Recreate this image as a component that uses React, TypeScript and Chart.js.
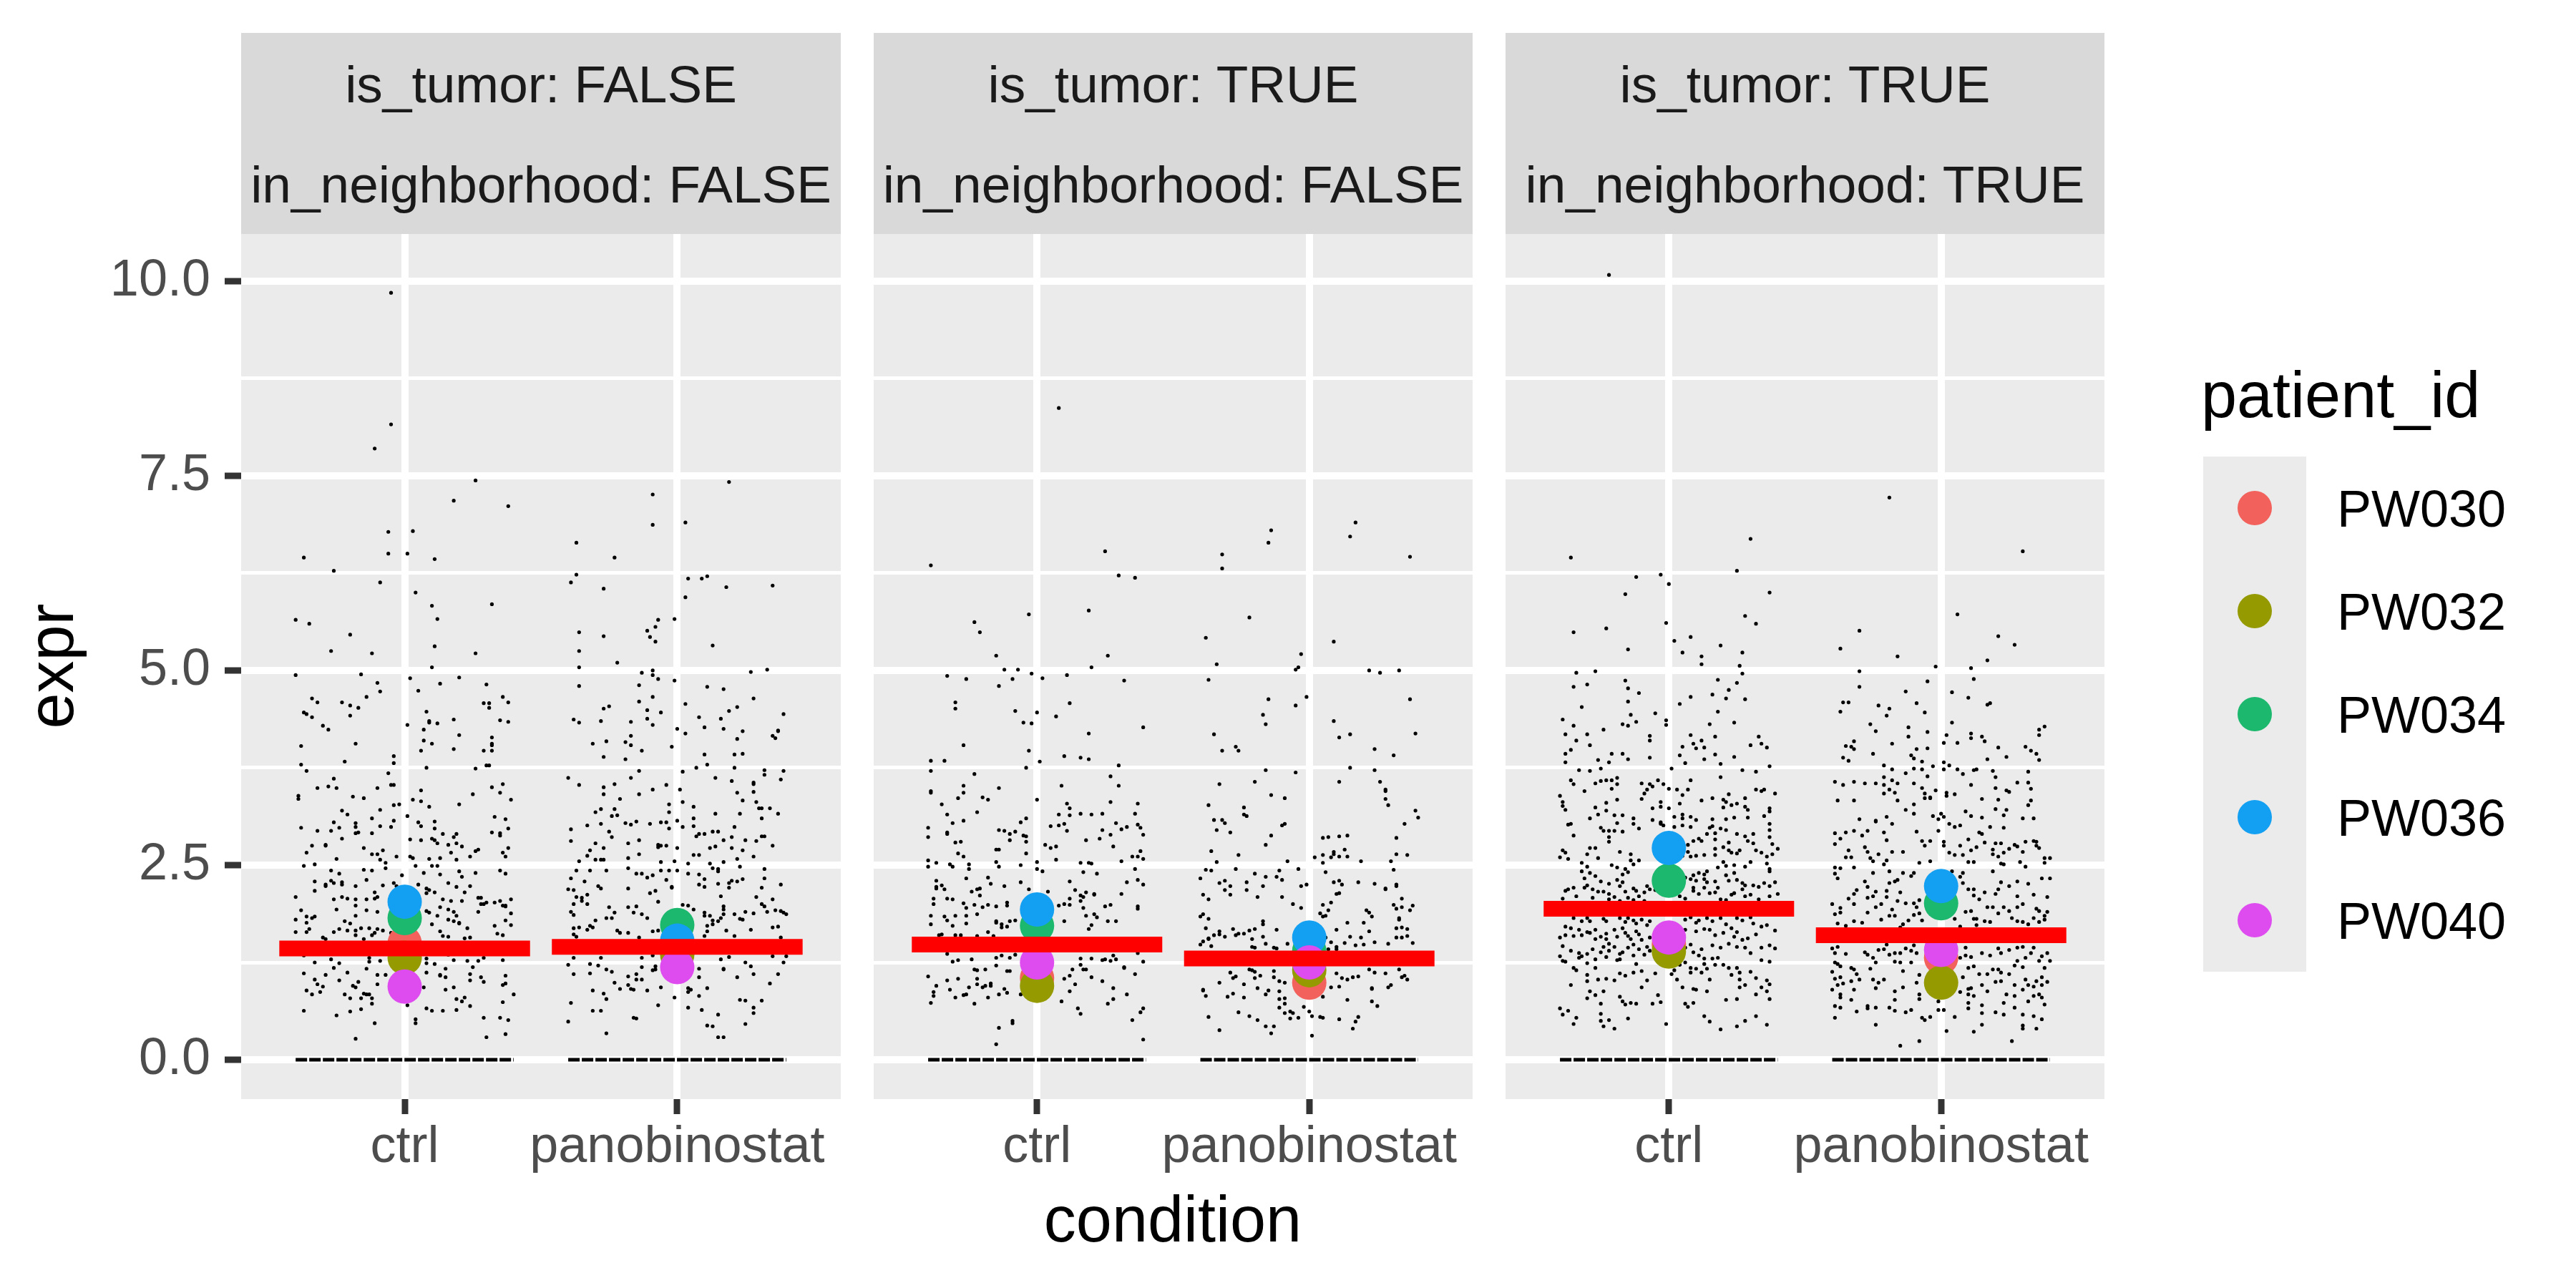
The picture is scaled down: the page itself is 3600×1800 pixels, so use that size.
import React, { useEffect, useRef } from 'react';
import { Chart, registerables } from 'chart.js';

Chart.register(...registerables);

const FONT = '"Liberation Sans", Arial, Helvetica, sans-serif';

// ---------------- data ----------------
const categories = ['ctrl', 'panobinostat'];
const isTumor = ['FALSE', 'TRUE', 'TRUE'];
const inNeighborhood = ['FALSE', 'FALSE', 'TRUE'];
const patients = ['PW030', 'PW032', 'PW034', 'PW036', 'PW040'];
const patientColors = ['#F3615C', '#949A00', '#1BB86E', '#14A0F2', '#DE4BEE'];

// group means (red bars) per facet
const ctrlMeans = [1.43, 1.48, 1.94];
const panoMeans = [1.45, 1.3, 1.6];

// patient means: [f1 ctrl, f1 pano, f2 ctrl, f2 pano, f3 ctrl, f3 pano]
const pw030Means = [1.5, 1.45, 1.05, 0.99, 1.48, 1.31];
const pw032Means = [1.31, 1.35, 0.95, 1.15, 1.39, 0.99];
const pw034Means = [1.82, 1.73, 1.72, 1.4, 2.3, 2.01];
const pw036Means = [2.03, 1.53, 1.93, 1.57, 2.72, 2.23];
const pw040Means = [0.94, 1.19, 1.25, 1.25, 1.57, 1.41];
const patientMeans = [pw030Means, pw032Means, pw034Means, pw036Means, pw040Means];

// y axis ticks
const yMajor = [0, 2.5, 5, 7.5, 10];
const yMajorLabels = ['0.0', '2.5', '5.0', '7.5', '10.0'];
const yMinor = [1.25, 3.75, 6.25, 8.75];

// jitter half width of zero-valued cells
const ZERO_HALF = 0.4;
const BAR_HALF = 0.46;

// jittered cells: flat pairs [jitter offset, expr, ...]
const p1CtrlJitter = [
  -0.05,9.85,-0.05,8.16,-0.11,7.85,0.26,7.44,0.18,7.18,0.38,7.11,-0.06,6.78,0.03,6.79,-0.37,6.45,-0.06,6.5,0.01,6.5,0.11,6.43,-0.26,6.28,-0.09,6.13,0.04,6.0,0.1,5.83,0.32,5.85,-0.4,5.65,0.12,5.66,
  -0.35,5.6,-0.2,5.46,-0.27,5.25,-0.12,5.22,0.11,5.31,0.26,5.22,0.1,5.04,-0.4,4.94,-0.16,4.95,0.02,4.9,0.2,4.91,0.13,4.83,-0.1,4.84,-0.09,4.73,0.05,4.74,0.3,4.82,-0.14,4.66,-0.34,4.64,-0.32,4.59,-0.23,4.59,-0.2,4.55,-0.17,4.52,-0.2,4.42,-0.37,4.46,-0.36,4.44,-0.34,4.4,0.29,4.58,0.31,4.58,0.31,4.52,0.36,4.66,0.38,4.59,0.08,4.47,0.09,4.35,0.09,4.33,0.12,4.32,0.01,4.3,0.18,4.37,0.35,4.36,0.38,4.34,-0.3,4.29,-0.28,4.24,0.07,4.24,0.2,4.17,0.32,4.14,0.07,4.1,0.1,4.06,0.32,4.06,0.32,4.04,-0.38,4.03,-0.18,4.06,0.06,3.97,0.18,3.99,0.29,3.97,0.32,3.97,-0.04,3.9,-0.04,3.81,-0.22,3.83,-0.38,3.79,-0.36,3.71,0.08,3.75,0.26,3.74,0.3,3.78,0.31,3.78,-0.06,3.68,-0.26,3.61,-0.05,3.53,-0.04,3.53,-0.28,3.51,-0.25,3.49,-0.32,3.49,-0.1,3.49,0.06,3.46,0.32,3.5,0.36,3.54,0.25,3.41,0.35,3.43,-0.39,3.39,-0.39,3.35,-0.19,3.38,-0.15,3.36,0.03,3.34,0.06,3.32,0.09,3.25,0.2,3.28,0.39,3.34,-0.04,3.27,-0.02,3.28,-0.09,3.21,-0.23,3.2,-0.21,3.15,-0.12,3.1,-0.18,3.04,-0.18,2.99,-0.26,3.05,-0.24,2.98,-0.27,2.94,-0.32,2.94,-0.38,2.98,-0.09,3.0,-0.05,2.99,-0.04,3.07,0.01,3.13,0.05,3.05,0.06,3.0,0.11,3.06,0.11,2.97,0.33,3.12,0.37,3.09,0.38,2.97,0.32,2.92,0.35,2.91,0.35,2.88,-0.18,2.91,-0.17,2.92,-0.12,2.91,-0.23,2.84,0.14,2.9,0.19,2.9,0.18,2.86,0.02,2.83,0.06,2.82,0.1,2.84,0.11,2.82,0.12,2.78,0.19,2.78,0.21,2.74,0.16,2.76,-0.29,2.76,-0.29,2.75,-0.34,2.75,-0.15,2.72,-0.08,2.69,0.26,2.68,0.27,2.7,0.38,2.72,-0.36,2.66,-0.12,2.64,-0.1,2.64,0.17,2.66,0.19,2.57,0.36,2.66,0.37,2.61,-0.03,2.61,-0.09,2.57,-0.07,2.53,-0.07,2.46,-0.25,2.58,0.02,2.61,0.03,2.59,0.09,2.58,0.13,2.59,0.24,2.61,-0.37,2.49,-0.33,2.51,0.04,2.49,0.1,2.49,0.12,2.49,-0.27,2.43,-0.15,2.44,-0.12,2.43,0.07,2.4,0.13,2.38,0.2,2.42,0.26,2.4,0.35,2.43,0.37,2.39,-0.24,2.39,0.21,2.35,-0.33,2.29,-0.29,2.23,-0.29,2.25,-0.27,2.3,-0.26,2.27,-0.23,2.28,-0.23,2.25,-0.33,2.17,-0.18,2.23,-0.14,2.31,-0.08,2.24,-0.04,2.27,-0.03,2.23,-0.01,2.37,0.05,2.25,0.08,2.2,0.09,2.18,0.16,2.27,0.19,2.22,0.24,2.23,0.22,2.15,0.11,2.15,0.27,2.08,-0.4,2.09,-0.11,2.15,-0.11,2.07,-0.23,2.09,-0.26,2.06,-0.21,2.07,-0.18,2.06,-0.14,2.06,-0.1,2.09,0.02,2.15,0.08,2.14,0.14,2.06,0.17,2.04,0.21,2.04,0.28,2.08,0.3,2.02,0.33,2.02,0.35,2.04,0.37,1.98,0.39,2.06,0.28,2.0,0.29,2.0,-0.38,1.92,-0.25,1.93,-0.18,1.98,-0.14,1.92,-0.1,1.9,0.08,1.91,0.09,1.89,0.12,1.85,0.13,1.96,0.16,1.93,0.18,1.9,0.19,1.85,0.2,1.75,0.27,1.9,0.36,1.98,0.37,1.97,0.39,1.88,-0.4,1.8,-0.36,1.84,-0.34,1.82,-0.33,1.84,-0.36,1.76,-0.35,1.68,-0.4,1.64,-0.36,1.64,-0.18,1.85,-0.22,1.78,-0.2,1.75,-0.26,1.64,-0.24,1.68,-0.21,1.66,-0.18,1.66,-0.16,1.69,-0.13,1.69,-0.11,1.63,-0.12,1.6,-0.1,1.68,-0.08,1.66,-0.05,1.63,-0.18,1.6,-0.15,1.55,-0.3,1.57,-0.29,1.55,0.1,1.74,0.16,1.8,0.18,1.78,0.2,1.76,0.13,1.65,0.23,1.69,0.14,1.59,0.16,1.58,0.22,1.56,0.24,1.57,0.33,1.72,0.37,1.79,0.39,1.73,0.34,1.62,0.36,1.6,
  -0.37,1.34,-0.33,1.25,-0.27,1.29,-0.26,1.18,-0.24,1.24,-0.13,1.31,-0.13,1.26,-0.09,1.27,-0.14,1.17,0.08,1.3,0.08,1.24,0.11,1.23,0.16,1.35,0.18,1.28,0.23,1.27,0.25,1.19,0.27,1.27,0.29,1.31,0.36,1.28,-0.37,1.11,-0.33,1.03,-0.32,0.97,-0.3,0.94,-0.36,0.89,-0.34,0.84,-0.31,0.87,-0.29,1.09,-0.24,1.02,-0.21,1.12,-0.19,0.95,-0.18,0.93,-0.17,1.0,-0.22,0.84,-0.2,0.79,-0.15,0.85,-0.14,0.84,-0.13,0.84,-0.16,0.79,-0.12,0.79,-0.12,0.72,-0.1,0.97,-0.1,1.09,-0.07,1.09,-0.25,0.57,-0.2,0.62,-0.16,0.65,-0.18,0.27,-0.11,0.47,-0.37,0.63,0.01,0.7,0.04,0.52,0.04,0.47,0.07,0.93,0.08,1.12,0.08,0.66,0.1,0.63,0.14,0.63,0.13,1.09,0.13,1.08,0.15,1.06,0.15,0.9,0.18,0.93,0.19,0.78,0.19,0.64,0.15,1.17,0.21,0.75,0.22,0.8,0.24,1.02,0.24,1.1,0.24,0.69,0.28,1.06,0.29,1.0,0.3,0.29,0.29,0.54,0.35,0.54,0.36,0.74,0.36,0.96,0.37,0.98,0.37,0.33,0.38,0.51,0.4,0.84,0.37,1.08,
];

const p1PanoJitter = [
  -0.09,7.26,0.19,7.42,-0.09,6.87,0.03,6.9,-0.37,6.64,-0.23,6.45,-0.37,6.23,-0.39,6.13,-0.27,6.05,0.04,6.18,0.09,6.18,0.11,6.21,0.18,6.07,0.35,6.09,0.03,5.94,-0.07,5.65,-0.01,5.66,
  -0.36,5.49,-0.27,5.44,-0.08,5.56,-0.11,5.51,-0.1,5.43,-0.08,5.37,0.13,5.32,-0.36,5.25,-0.36,5.04,-0.22,5.1,0.27,4.98,0.33,5.01,-0.13,4.97,-0.09,5.0,-0.09,4.94,-0.07,4.89,-0.01,4.87,-0.36,4.8,-0.14,4.81,0.11,4.79,0.17,4.76,-0.09,4.66,-0.14,4.6,0.03,4.57,0.28,4.64,0.22,4.53,-0.27,4.51,-0.25,4.54,-0.11,4.49,-0.06,4.46,0.19,4.48,0.39,4.44,-0.38,4.37,-0.36,4.33,-0.28,4.35,-0.17,4.34,-0.11,4.38,-0.09,4.3,0.08,4.4,0.1,4.27,0.16,4.38,0.0,4.25,0.03,4.19,0.17,4.25,0.24,4.22,0.37,4.22,0.37,4.23,0.35,4.16,0.36,4.13,-0.17,4.16,-0.19,4.08,-0.17,4.04,-0.26,4.09,-0.31,4.06,0.22,4.12,-0.02,4.02,-0.13,3.97,-0.27,3.89,-0.19,3.86,0.1,3.92,0.11,3.79,0.21,3.92,0.24,3.93,0.07,3.75,0.21,3.75,-0.14,3.71,0.02,3.7,0.32,3.72,0.32,3.66,0.39,3.71,-0.4,3.62,-0.36,3.53,-0.17,3.62,-0.23,3.54,-0.27,3.5,-0.04,3.53,0.01,3.47,-0.09,3.47,0.14,3.62,0.2,3.58,0.28,3.56,0.28,3.54,0.38,3.6,-0.27,3.41,-0.21,3.35,-0.14,3.41,0.02,3.31,-0.03,3.28,0.06,3.25,0.22,3.43,0.24,3.33,0.28,3.44,0.29,3.31,0.3,3.23,0.31,3.23,0.34,3.23,0.37,3.16,-0.28,3.22,-0.23,3.22,-0.3,3.18,-0.24,3.13,-0.22,3.14,-0.03,3.18,0.14,3.16,0.23,3.16,0.31,3.1,-0.33,3.01,-0.28,3.03,-0.19,3.04,-0.17,3.02,-0.15,3.06,-0.1,3.03,-0.06,3.05,-0.04,3.05,0.0,3.07,0.06,3.1,-0.03,2.97,0.02,2.99,0.06,3.0,0.1,2.9,0.13,2.93,0.15,2.93,0.21,2.99,-0.39,2.96,-0.25,2.93,-0.24,2.86,0.07,2.87,0.08,2.9,0.17,2.82,0.2,2.86,0.25,2.82,0.29,2.81,0.31,2.87,0.32,2.87,0.35,2.75,-0.39,2.81,-0.3,2.78,-0.18,2.78,-0.14,2.82,-0.07,2.76,-0.07,2.73,-0.06,2.75,-0.04,2.75,0.0,2.72,0.12,2.72,0.14,2.74,0.2,2.72,0.24,2.69,-0.27,2.72,-0.32,2.69,-0.33,2.62,-0.3,2.57,-0.28,2.57,-0.27,2.57,-0.36,2.55,-0.14,2.64,-0.18,2.59,-0.06,2.54,-0.01,2.55,0.04,2.52,0.06,2.63,0.08,2.63,0.12,2.52,0.13,2.46,0.15,2.45,0.17,2.54,0.22,2.58,0.28,2.61,0.23,2.48,0.32,2.45,-0.37,2.43,-0.32,2.43,-0.26,2.43,-0.39,2.33,-0.34,2.29,-0.18,2.46,-0.15,2.39,-0.13,2.39,-0.11,2.34,-0.09,2.37,-0.06,2.43,-0.03,2.43,0.0,2.43,-0.04,2.31,0.04,2.39,0.08,2.38,0.1,2.32,0.08,2.25,0.1,2.22,0.15,2.42,0.15,2.26,0.19,2.27,0.19,2.21,0.2,2.3,0.22,2.29,0.24,2.32,0.32,2.33,0.38,2.25,0.31,2.21,0.16,2.1,-0.29,2.23,-0.28,2.2,-0.4,2.19,-0.38,2.18,-0.37,2.09,-0.35,2.08,-0.33,2.12,-0.35,2.04,-0.38,2.0,-0.33,2.0,-0.18,2.2,-0.1,2.14,-0.08,2.17,-0.02,2.22,-0.02,2.21,-0.07,2.03,0.02,1.99,0.04,1.98,0.29,2.09,0.31,2.0,0.35,2.06,0.32,1.97,-0.25,1.96,-0.18,1.96,-0.15,1.97,0.06,1.93,0.17,1.97,0.17,1.93,0.1,1.89,0.1,1.85,0.12,1.85,0.13,1.79,0.15,1.78,0.13,1.74,0.16,1.82,0.17,1.87,0.21,1.87,0.25,1.9,0.28,1.88,0.33,1.9,0.36,1.92,0.38,1.91,0.4,1.87,0.39,1.89,0.37,1.71,0.27,1.67,0.35,1.7,0.23,1.81,0.24,1.8,0.18,1.66,0.11,1.72,0.11,1.65,0.1,1.59,0.38,1.57,0.21,1.59,-0.39,1.9,-0.38,1.86,-0.3,1.79,-0.26,1.82,-0.23,1.89,-0.24,1.82,-0.13,1.87,-0.11,1.82,-0.16,1.89,-0.38,1.69,-0.36,1.7,-0.38,1.61,-0.37,1.58,-0.33,1.67,-0.32,1.72,-0.31,1.7,-0.22,1.66,-0.21,1.63,-0.18,1.63,-0.14,1.57,-0.09,1.65,-0.07,1.66,
  -0.4,1.22,-0.38,1.1,-0.38,1.31,-0.32,1.11,-0.32,1.23,-0.29,1.21,-0.28,1.31,-0.26,1.16,-0.24,1.13,-0.23,0.99,-0.21,0.91,-0.13,1.31,-0.13,1.19,-0.09,1.34,-0.09,1.15,-0.08,1.16,-0.08,1.2,-0.18,1.07,-0.18,0.96,-0.17,0.91,-0.15,1.1,-0.15,1.03,-0.13,1.03,-0.16,0.9,-0.11,0.89,-0.06,0.93,0.08,1.17,0.08,1.06,0.04,0.92,0.05,0.9,0.04,0.87,0.08,0.82,0.11,0.92,0.16,1.29,0.17,1.16,0.17,1.17,0.19,1.32,0.22,1.06,0.25,1.25,0.27,1.2,0.28,1.1,0.35,1.33,0.37,1.1,0.39,1.25,0.4,1.33,0.34,0.98,0.31,0.76,0.23,0.77,0.25,0.76,0.28,0.67,0.28,0.6,0.25,0.46,0.09,0.64,0.11,0.44,0.13,0.43,0.15,0.58,0.15,0.29,0.17,0.29,0.04,0.67,-0.01,0.8,-0.07,0.7,-0.16,0.54,-0.15,0.53,-0.26,0.34,-0.31,0.63,-0.28,0.63,-0.27,0.85,-0.26,0.78,-0.31,0.89,-0.39,0.73,-0.4,0.49,-0.05,1.17,
];

const p2CtrlJitter = [
  0.08,8.37,-0.39,6.35,0.25,6.53,0.3,6.22,0.36,6.19,0.19,5.77,-0.03,5.72,
  -0.23,5.62,-0.21,5.49,-0.15,5.19,0.26,5.19,-0.12,5.01,-0.07,5.01,0.2,5.04,-0.02,4.96,-0.33,4.93,-0.26,4.89,-0.09,4.89,0.02,4.9,0.11,4.94,0.32,4.87,-0.14,4.8,-0.3,4.59,-0.3,4.51,0.12,4.58,-0.08,4.48,0.0,4.46,0.07,4.41,-0.05,4.33,-0.02,4.32,0.39,4.27,0.19,4.19,-0.27,4.04,-0.03,3.97,0.1,3.9,0.16,3.88,0.19,3.86,-0.39,3.84,-0.34,3.84,0.01,3.83,-0.04,3.75,0.3,3.78,-0.39,3.71,-0.23,3.67,0.27,3.64,0.09,3.52,-0.14,3.49,-0.27,3.52,0.3,3.52,-0.39,3.45,-0.39,3.43,-0.27,3.43,-0.29,3.36,-0.2,3.37,-0.18,3.34,0.0,3.34,0.27,3.31,0.11,3.29,0.37,3.29,-0.35,3.28,0.12,3.23,-0.22,3.18,-0.33,3.15,0.08,3.15,0.12,3.14,0.16,3.16,0.2,3.15,0.24,3.16,0.36,3.16,-0.04,3.1,-0.06,3.05,-0.31,3.04,-0.27,3.07,0.05,3.0,0.08,3.01,0.1,3.03,0.29,3.04,0.33,2.99,0.37,3.02,0.38,2.98,-0.4,2.98,-0.14,2.95,-0.12,2.94,-0.1,2.9,-0.08,2.93,-0.05,2.88,-0.04,2.87,-0.1,2.82,-0.33,2.92,-0.33,2.9,-0.4,2.86,0.11,2.94,0.24,2.95,0.31,2.96,0.27,2.89,0.39,2.89,0.18,2.82,0.23,2.84,-0.3,2.79,-0.28,2.8,-0.04,2.8,0.03,2.76,0.05,2.72,0.07,2.74,0.28,2.74,-0.15,2.7,-0.14,2.7,-0.04,2.65,-0.29,2.65,-0.27,2.61,0.35,2.61,0.37,2.61,0.39,2.58,0.38,2.68,-0.4,2.56,-0.37,2.53,-0.32,2.51,-0.31,2.48,-0.4,2.48,-0.25,2.51,-0.25,2.45,-0.15,2.54,-0.14,2.48,-0.06,2.5,0.0,2.54,0.0,2.45,0.02,2.42,0.07,2.57,0.16,2.53,0.19,2.53,0.2,2.52,0.17,2.41,0.22,2.39,0.31,2.55,0.36,2.45,0.37,2.31,0.39,2.25,0.33,2.28,0.31,2.13,-0.26,2.33,-0.18,2.34,-0.17,2.26,-0.37,2.3,-0.37,2.22,-0.37,2.2,-0.35,2.24,-0.34,2.19,-0.22,2.19,-0.21,2.2,-0.24,2.16,-0.21,2.11,-0.12,2.23,-0.06,2.28,-0.03,2.19,0.04,2.16,0.12,2.29,0.14,2.18,0.16,2.11,0.17,2.09,0.18,2.15,0.21,2.13,0.21,2.12,-0.38,2.07,-0.38,2.0,-0.33,2.07,-0.31,2.06,-0.27,2.01,-0.26,1.95,-0.23,1.99,-0.2,1.96,-0.18,1.99,-0.15,1.97,-0.11,1.98,-0.11,2.02,-0.05,1.97,0.03,2.06,0.04,2.03,0.08,1.98,0.1,2.0,0.12,1.99,0.12,2.07,0.16,2.04,0.17,1.95,0.18,1.85,0.21,1.87,0.22,1.83,0.25,1.97,0.27,1.99,0.37,1.97,0.37,1.94,0.26,1.78,0.29,1.78,0.2,1.73,0.19,1.68,0.1,1.78,-0.39,1.85,-0.34,1.84,-0.33,1.79,-0.39,1.74,-0.3,1.85,-0.26,1.75,-0.26,1.85,-0.22,1.87,-0.31,1.72,-0.15,1.78,-0.15,1.76,-0.13,1.74,-0.13,1.7,-0.11,1.71,-0.1,1.78,-0.08,1.79,-0.18,1.64,-0.16,1.59,-0.36,1.6,-0.35,1.61,-0.3,1.6,-0.28,1.6,-0.22,1.59,
  -0.33,1.36,-0.31,1.26,-0.29,1.28,-0.24,1.29,-0.15,1.31,-0.13,1.34,-0.1,1.31,-0.08,1.35,-0.15,1.21,-0.11,1.14,-0.1,1.14,-0.23,1.16,-0.22,1.15,-0.19,1.16,-0.33,1.02,-0.29,1.04,-0.22,1.04,-0.4,1.07,-0.37,0.95,-0.38,0.87,-0.38,0.82,-0.39,0.73,-0.32,0.9,-0.3,0.8,-0.27,0.83,-0.26,0.84,-0.25,0.93,-0.23,0.72,-0.22,0.97,-0.2,0.93,-0.19,0.95,-0.18,0.8,-0.17,0.95,-0.17,0.98,-0.14,0.84,-0.12,0.91,-0.11,0.86,-0.06,0.84,-0.14,0.41,-0.15,0.2,-0.09,0.47,-0.09,0.5,0.09,0.75,0.1,1.04,0.12,0.88,0.12,1.08,0.13,1.16,0.16,1.22,0.17,1.16,0.18,1.16,0.16,1.3,0.2,1.3,0.2,1.06,0.14,0.97,0.15,0.66,0.16,0.59,0.24,1.01,0.24,1.28,0.25,1.29,0.27,1.27,0.28,1.34,0.29,1.29,0.32,1.19,0.32,1.18,0.36,1.1,0.39,1.26,0.37,1.37,0.28,0.92,0.28,0.78,0.26,0.72,0.33,0.84,0.35,0.51,0.38,0.61,0.39,0.66,0.39,0.26,
];

const p2PanoJitter = [
  -0.32,6.49,-0.32,6.31,-0.15,6.64,-0.14,6.8,0.15,6.72,0.17,6.9,0.37,6.46,
  -0.22,5.68,-0.38,5.42,0.09,5.37,-0.03,5.21,-0.34,5.08,-0.04,5.04,-0.05,5.01,0.22,5.0,0.26,4.97,0.33,5.0,-0.37,4.88,-0.01,4.66,-0.05,4.55,-0.15,4.63,0.37,4.63,-0.17,4.43,-0.16,4.31,0.09,4.35,-0.35,4.18,0.11,4.14,0.15,4.18,0.39,4.19,-0.32,3.97,-0.27,4.02,-0.26,3.97,0.24,3.99,0.31,3.91,-0.16,3.72,-0.05,3.69,0.15,3.75,0.24,3.72,0.11,3.57,0.26,3.57,-0.2,3.57,-0.33,3.54,0.28,3.47,0.28,3.45,-0.14,3.4,-0.09,3.36,0.28,3.35,0.29,3.27,-0.37,3.27,-0.24,3.24,-0.24,3.15,-0.23,3.13,-0.35,3.08,-0.32,3.08,-0.31,3.04,-0.1,3.01,-0.09,3.03,0.39,3.2,0.4,3.11,0.35,3.03,-0.34,2.95,-0.29,2.92,-0.14,2.88,0.05,2.85,0.07,2.86,0.11,2.87,0.14,2.88,0.32,2.85,-0.16,2.76,-0.36,2.68,-0.26,2.63,0.09,2.67,0.13,2.7,0.11,2.61,0.09,2.64,0.05,2.63,0.02,2.6,0.08,2.6,0.14,2.61,0.05,2.53,-0.08,2.55,0.19,2.55,0.3,2.55,0.32,2.64,0.36,2.63,-0.34,2.54,-0.38,2.44,-0.36,2.43,-0.27,2.45,-0.04,2.45,0.06,2.41,0.31,2.44,-0.4,2.33,-0.31,2.3,-0.33,2.27,-0.31,2.18,-0.29,2.23,-0.29,2.12,-0.39,2.12,-0.37,2.06,-0.23,2.28,-0.23,2.18,-0.19,2.09,-0.2,2.39,-0.16,2.35,-0.17,2.23,-0.12,2.35,-0.11,2.43,-0.1,2.31,-0.1,2.09,-0.03,2.23,-0.01,2.25,0.09,2.28,0.11,2.3,0.12,2.25,0.18,2.28,0.24,2.26,0.28,2.2,0.28,2.19,0.32,2.25,0.32,2.23,0.1,2.13,0.11,2.14,0.34,2.07,0.37,1.92,0.38,1.98,0.31,1.99,0.32,1.94,0.34,1.96,0.33,1.82,0.33,1.8,0.34,1.7,0.32,1.69,0.36,1.68,0.34,1.57,0.38,1.5,0.32,1.57,0.36,1.59,0.21,1.92,0.22,1.89,0.23,1.84,0.2,1.76,0.22,1.65,0.19,1.57,0.15,1.58,0.17,1.47,0.14,1.76,0.1,1.67,0.05,1.84,0.04,1.88,0.05,1.99,0.07,1.92,0.06,1.85,0.08,2.02,-0.03,1.95,-0.06,2.0,-0.08,1.49,-0.12,1.67,-0.13,1.44,-0.12,1.43,-0.17,1.74,-0.17,1.78,-0.16,1.49,-0.17,1.58,-0.2,1.68,-0.22,1.66,-0.21,1.55,-0.21,1.45,-0.2,1.44,-0.24,1.62,-0.26,1.62,-0.28,1.68,-0.27,1.6,-0.31,1.58,-0.33,1.65,-0.33,1.61,-0.35,1.6,-0.37,1.56,-0.38,1.69,-0.4,1.84,-0.39,1.87,-0.37,1.81,-0.39,1.52,-0.4,1.48,-0.36,1.46,-0.37,1.55,
  -0.29,1.12,-0.27,1.07,-0.28,1.05,-0.24,0.97,-0.22,1.16,-0.21,1.15,-0.2,1.13,-0.2,1.05,-0.18,1.08,-0.13,1.14,-0.13,1.06,-0.11,1.01,-0.09,0.99,-0.15,0.89,-0.11,0.88,-0.16,0.84,-0.19,0.92,-0.11,0.78,-0.09,0.79,-0.09,0.72,-0.11,0.67,-0.07,0.62,-0.09,0.6,-0.07,0.53,-0.06,0.6,-0.04,0.54,-0.02,0.68,0.0,0.62,0.01,0.56,0.04,0.55,0.05,0.54,0.01,0.31,-0.19,0.51,-0.16,0.43,-0.13,0.43,-0.14,0.34,-0.22,0.56,-0.26,0.61,-0.37,0.55,-0.33,0.38,-0.39,0.89,-0.39,0.9,-0.38,0.82,-0.3,0.81,-0.28,0.85,-0.24,0.8,-0.33,0.99,0.05,0.81,0.08,0.93,0.11,0.52,0.1,1.11,0.14,1.03,0.11,0.94,0.12,1.05,0.16,1.06,0.14,0.77,0.17,0.49,0.16,0.4,0.18,0.55,0.18,1.07,0.23,0.91,0.23,0.92,0.23,0.75,0.25,0.69,0.22,1.16,0.24,1.12,0.28,1.11,0.29,0.93,0.3,0.96,0.33,1.16,0.35,1.08,0.36,1.03,0.34,1.06,0.2,1.48,0.24,1.51,0.29,1.49,0.25,1.23,0.13,1.5,0.1,1.45,0.08,1.51,0.06,1.57,0.1,1.42,0.04,1.43,0.07,1.42,
];

const p3CtrlJitter = [
  -0.22,10.08,-0.36,6.45,-0.03,6.23,-0.12,6.2,0.0,6.11,-0.16,5.98,0.25,6.28,0.37,6.0,0.28,5.7,0.3,6.69,
  -0.35,5.49,-0.23,5.54,-0.01,5.61,0.32,5.6,0.02,5.38,0.08,5.43,0.05,5.23,0.12,5.18,0.12,5.08,-0.15,5.27,0.19,5.32,0.27,5.23,0.26,5.06,0.27,4.96,-0.34,4.97,-0.27,4.99,-0.35,4.79,-0.3,4.82,-0.16,4.87,-0.15,4.77,-0.11,4.71,-0.15,4.6,-0.32,4.53,-0.05,4.45,-0.14,4.43,-0.17,4.31,-0.15,4.29,-0.12,4.34,-0.01,4.36,-0.01,4.3,-0.39,4.37,-0.35,4.29,0.18,4.88,0.25,4.84,0.22,4.75,0.21,4.64,0.16,4.69,0.08,4.66,0.28,4.63,0.04,4.57,0.18,4.47,0.15,4.31,0.24,4.33,-0.38,4.18,-0.3,4.18,-0.24,4.24,-0.07,4.16,-0.07,4.1,-0.34,4.1,-0.29,4.04,-0.36,3.98,-0.38,3.93,-0.26,3.85,-0.22,3.82,-0.21,3.93,-0.17,3.93,-0.15,3.86,-0.07,3.88,-0.38,3.82,-0.25,3.74,-0.33,3.72,-0.29,3.71,0.08,4.17,0.12,4.1,0.09,4.06,0.05,4.02,0.1,4.0,0.13,4.01,0.17,4.15,0.3,4.04,0.33,4.15,0.34,4.06,0.36,4.01,0.04,3.91,0.06,3.81,0.13,3.86,0.17,3.92,0.24,3.89,0.19,3.8,0.01,3.74,0.37,3.77,0.27,3.72,0.32,3.7,
  -0.36,3.59,-0.35,3.54,-0.31,3.45,-0.4,3.39,-0.39,3.31,-0.39,3.26,-0.38,3.21,-0.37,3.02,-0.36,3.03,-0.35,2.88,-0.39,2.69,-0.38,2.66,-0.4,2.6,-0.37,2.58,-0.32,2.53,-0.3,2.48,-0.32,2.42,-0.29,2.4,-0.31,2.33,-0.27,2.36,-0.27,3.55,-0.27,3.24,-0.29,3.1,-0.26,3.15,-0.25,3.58,-0.23,3.59,-0.21,3.59,-0.19,3.62,-0.19,3.54,-0.21,3.48,-0.23,3.3,-0.19,3.34,-0.23,3.2,-0.2,3.14,-0.17,3.14,-0.19,3.04,-0.25,2.98,-0.24,2.94,-0.22,2.94,-0.22,2.86,-0.22,2.8,-0.2,2.94,-0.17,2.93,-0.29,2.72,-0.27,2.72,-0.3,2.64,-0.26,2.59,-0.18,2.67,-0.14,2.64,-0.21,2.5,-0.19,2.47,-0.16,2.45,-0.15,2.41,-0.17,2.38,-0.19,2.31,-0.17,2.28,-0.22,2.26,-0.25,2.29,-0.24,2.16,-0.22,2.13,-0.14,2.56,-0.11,2.56,-0.13,2.51,-0.13,3.1,-0.13,3.03,-0.11,2.97,-0.1,3.55,-0.07,3.54,-0.06,3.51,-0.04,3.59,-0.02,3.54,-0.08,3.47,-0.1,3.35,-0.09,3.42,-0.03,3.31,-0.03,3.25,-0.06,3.23,0.0,3.48,0.03,3.47,0.08,3.59,0.07,3.47,0.05,3.4,0.04,3.29,0.05,3.15,0.05,3.1,0.02,3.12,0.0,3.23,-0.03,3.05,-0.06,3.08,-0.03,3.03,-0.02,3.01,0.02,2.99,0.05,3.01,0.08,2.99,0.08,3.12,0.1,3.08,0.12,3.33,0.16,3.36,0.2,3.34,0.21,3.31,0.2,3.24,0.19,3.63,0.22,3.41,0.23,3.27,0.25,3.29,0.28,3.36,0.28,3.25,0.32,3.47,0.34,3.45,0.35,3.47,0.39,3.42,0.29,3.21,0.37,3.23,0.37,3.19,0.37,3.03,0.35,3.13,0.29,3.11,0.24,3.11,0.21,3.09,0.16,3.09,0.15,2.98,0.14,2.9,0.16,3.0,0.19,2.97,0.21,2.95,0.17,2.91,0.17,2.83,0.11,2.84,0.12,2.81,0.09,2.81,0.07,2.76,0.05,2.77,0.05,2.62,0.07,2.67,0.08,2.61,0.1,2.62,0.13,2.63,0.17,2.63,0.17,2.71,0.2,2.73,0.22,2.79,0.22,2.69,0.23,2.66,0.25,2.65,0.26,2.69,0.25,2.9,0.28,2.87,0.29,2.81,0.31,2.78,0.32,2.69,0.31,2.9,0.37,2.95,0.37,2.86,0.38,2.77,0.4,2.71,0.34,2.66,0.36,2.61,0.38,2.64,0.36,2.52,0.37,2.45,0.37,2.42,0.3,2.54,0.28,2.48,0.24,2.5,0.21,2.49,0.2,2.54,0.18,2.47,0.14,2.42,0.13,2.38,0.11,2.4,0.09,2.37,0.08,2.32,0.06,2.34,0.1,2.3,0.13,2.32,0.14,2.28,0.17,2.29,0.09,2.21,0.09,2.17,0.11,2.13,0.13,2.21,0.15,2.14,0.17,2.15,0.18,2.21,0.21,2.37,0.22,2.3,0.24,2.4,0.25,2.31,0.27,2.27,0.27,2.19,0.28,2.24,0.31,2.24,0.33,2.22,0.35,2.27,0.37,2.23,0.39,2.28,0.37,2.1,0.4,2.13,0.23,2.12,0.24,2.14,0.28,2.1,0.3,2.12,0.33,2.06,0.21,2.05,0.19,2.06,0.06,2.07,0.04,2.1,-0.38,2.17,-0.39,2.07,-0.37,2.19,-0.35,2.21,-0.34,2.1,-0.31,2.21,-0.3,2.24,-0.28,2.19,-0.26,2.16,-0.18,2.23,-0.16,2.16,-0.13,2.2,-0.12,2.17,-0.11,2.1,-0.09,2.15,-0.08,2.23,-0.07,2.19,-0.05,2.18,-0.03,2.25,-0.02,2.12,-0.28,2.08,-0.22,2.06,-0.2,2.09,-0.18,2.04,-0.15,2.08,-0.13,2.05,-0.09,2.04,
  -0.35,1.82,-0.32,1.78,-0.3,1.82,-0.29,1.78,-0.24,1.81,-0.23,1.78,-0.18,1.82,-0.16,1.77,-0.15,1.82,-0.13,1.79,-0.12,1.75,-0.1,1.8,-0.08,1.73,-0.07,1.78,-0.38,1.71,-0.36,1.69,-0.38,1.6,-0.4,1.57,-0.35,1.59,-0.33,1.67,-0.3,1.64,-0.32,1.6,-0.29,1.63,-0.27,1.67,-0.27,1.55,-0.25,1.58,-0.23,1.62,-0.23,1.55,-0.2,1.67,-0.17,1.69,-0.16,1.63,-0.19,1.58,-0.15,1.59,-0.14,1.55,-0.12,1.65,-0.11,1.61,-0.1,1.54,-0.07,1.57,-0.39,1.46,-0.4,1.33,-0.39,1.27,-0.38,1.26,-0.36,1.4,-0.33,1.37,-0.33,1.31,-0.32,1.33,-0.3,1.36,-0.3,1.24,-0.28,1.42,-0.27,1.29,-0.25,1.38,-0.24,1.45,-0.22,1.49,-0.22,1.4,-0.23,1.32,-0.2,1.45,-0.18,1.36,-0.17,1.38,-0.18,1.29,-0.15,1.44,-0.13,1.48,-0.13,1.34,-0.11,1.42,-0.08,1.45,-0.07,1.4,-0.09,1.35,-0.12,1.23,-0.19,1.28,-0.35,1.18,-0.34,1.15,-0.3,1.09,-0.27,1.18,-0.36,0.96,-0.3,1.01,-0.26,1.03,-0.23,1.04,-0.2,1.02,-0.18,1.11,-0.16,1.08,-0.13,1.12,-0.1,1.14,-0.08,1.02,-0.05,1.11,-0.3,0.79,-0.27,0.83,-0.25,0.72,-0.24,0.88,-0.29,0.88,-0.18,0.81,-0.17,0.75,-0.16,0.71,-0.14,0.73,-0.12,0.72,-0.06,0.72,-0.04,0.83,-0.03,0.74,-0.1,0.93,-0.4,0.66,-0.39,0.58,-0.37,0.63,-0.35,0.46,-0.34,0.54,-0.25,0.59,-0.25,0.5,-0.24,0.43,-0.22,0.51,-0.2,0.4,-0.15,0.53,-0.01,0.46,
  0.06,1.44,0.08,1.48,0.09,1.38,0.12,1.42,0.11,1.34,0.13,1.3,0.08,1.18,0.06,1.25,0.04,1.22,0.02,1.15,0.01,1.1,0.03,1.03,0.08,1.12,0.1,1.17,0.12,1.12,0.13,1.23,0.14,1.17,0.15,1.03,0.16,1.3,0.17,1.22,0.18,1.31,0.2,1.22,0.22,1.18,0.23,1.09,0.25,1.18,0.26,1.12,0.26,1.03,0.3,1.13,0.32,1.05,0.36,1.02,0.37,0.97,0.34,0.93,0.26,0.93,0.28,0.96,0.32,0.84,0.36,0.88,0.37,0.78,0.21,0.77,0.25,0.78,0.05,0.93,0.09,0.91,0.1,0.9,0.14,0.88,0.06,0.72,0.07,0.68,0.09,0.73,0.13,0.56,0.15,0.49,0.19,0.39,0.25,0.43,0.28,0.5,0.32,0.56,0.36,0.45,0.06,1.8,0.08,1.83,0.1,1.76,0.11,1.79,0.14,1.82,0.16,1.78,0.19,1.82,0.21,1.74,0.25,1.82,0.27,1.79,0.3,1.83,0.31,1.75,0.34,1.71,0.36,1.73,0.39,1.66,0.06,1.67,0.1,1.65,0.13,1.68,0.15,1.67,0.17,1.6,0.2,1.63,0.23,1.69,0.25,1.64,0.24,1.58,0.27,1.54,0.29,1.56,0.32,1.61,0.22,1.49,0.25,1.45,0.28,1.44,0.3,1.37,0.19,1.44,0.16,1.47,0.34,1.44,0.37,1.47,0.39,1.43,0.37,1.26,0.34,1.28,
];

const p3PanoJitter = [
  -0.19,7.22,0.3,6.53,0.06,5.72,
  -0.3,5.51,-0.37,5.28,0.21,5.44,0.27,5.33,-0.16,5.18,0.17,5.13,-0.02,5.05,0.11,5.03,-0.3,4.99,0.12,4.89,-0.3,4.79,-0.05,4.86,0.04,4.72,-0.13,4.73,0.1,4.65,0.17,4.56,0.18,4.58,-0.36,4.59,-0.34,4.59,-0.37,4.47,-0.23,4.55,-0.19,4.51,-0.2,4.42,-0.09,4.58,-0.06,4.46,0.04,4.33,-0.26,4.31,-0.24,4.22,-0.12,4.27,-0.12,4.15,-0.05,4.21,-0.18,4.06,-0.35,4.03,-0.32,4.09,-0.33,4.02,-0.32,3.99,-0.36,3.88,-0.34,3.84,-0.25,3.93,-0.09,3.99,-0.11,3.91,-0.1,3.87,-0.07,3.83,-0.05,4.0,0.01,4.07,0.06,4.07,0.02,4.17,0.11,4.19,0.11,4.13,0.15,4.15,0.16,4.09,0.21,4.01,0.24,3.89,0.17,3.86,0.31,4.02,0.33,3.97,0.35,3.93,0.36,3.85,0.36,4.24,0.36,4.17,0.38,4.28,-0.21,3.78,-0.18,3.73,-0.13,3.68,-0.1,3.74,-0.07,3.73,-0.03,3.77,0.01,3.82,0.03,3.78,0.01,3.73,0.06,3.73,0.08,3.67,0.12,3.72,0.19,3.71,0.32,3.7,0.13,3.73,
  -0.39,3.57,-0.36,3.53,-0.32,3.57,-0.28,3.55,-0.24,3.55,-0.21,3.63,-0.21,3.53,-0.18,3.59,-0.16,3.55,-0.19,3.47,-0.17,3.43,-0.21,3.42,-0.16,3.33,-0.1,3.55,-0.05,3.64,-0.07,3.49,-0.06,3.42,-0.06,3.36,-0.04,3.36,-0.04,3.37,-0.02,3.46,0.02,3.43,0.02,3.39,0.05,3.41,0.11,3.53,0.15,3.35,0.2,3.63,0.2,3.49,0.24,3.46,0.25,3.44,0.21,3.34,0.2,3.22,0.24,3.21,0.28,3.56,0.32,3.56,0.33,3.48,0.32,3.27,0.33,3.33,-0.38,3.33,-0.32,3.33,-0.13,3.21,-0.1,3.28,-0.1,3.16,-0.03,3.13,0.0,3.16,0.01,3.12,-0.01,3.09,-0.01,2.94,0.03,3.03,0.05,2.99,0.07,3.01,0.09,3.19,0.11,3.13,0.15,3.11,0.18,2.99,0.23,2.98,0.23,3.14,0.3,3.1,0.34,3.1,-0.3,3.09,-0.24,3.07,-0.24,3.06,-0.2,3.12,-0.18,3.03,-0.27,2.94,-0.29,2.88,-0.32,2.94,-0.35,2.92,-0.39,2.91,-0.37,2.84,-0.39,2.77,-0.34,2.69,-0.35,2.6,-0.33,2.6,-0.28,2.73,-0.27,2.67,-0.26,2.59,-0.25,2.55,-0.23,2.64,-0.21,2.92,-0.2,2.82,-0.18,2.67,-0.14,2.67,-0.2,2.56,-0.21,2.51,-0.09,2.93,-0.07,2.81,-0.06,2.75,-0.04,2.81,0.01,2.8,0.03,2.66,0.01,2.75,0.05,2.63,0.08,2.63,0.07,2.75,0.1,2.83,0.11,2.69,0.13,2.73,0.14,2.92,0.15,2.9,0.16,2.79,0.19,2.7,0.2,2.78,0.19,2.64,0.21,2.61,0.22,2.78,0.23,2.66,0.22,2.52,0.23,2.51,0.25,2.71,0.27,2.76,0.28,2.74,0.3,2.67,0.31,2.8,0.34,2.81,0.35,2.75,0.35,2.8,0.38,2.59,0.4,2.59,0.36,2.72,0.38,2.53,0.29,2.54,0.31,2.48,0.19,2.42,0.12,2.54,0.1,2.54,-0.04,2.55,-0.08,2.53,-0.39,2.47,-0.39,2.39,-0.37,2.46,-0.38,2.33,-0.32,2.47,-0.25,2.4,-0.19,2.42,-0.14,2.4,-0.1,2.4,-0.11,2.36,-0.16,2.31,-0.17,2.29,-0.19,2.27,-0.2,2.17,-0.24,2.16,-0.27,2.22,-0.28,2.29,-0.31,2.18,-0.32,2.13,-0.34,2.07,-0.32,2.0,-0.27,2.08,-0.25,2.1,-0.22,2.0,-0.2,2.09,-0.16,2.04,-0.15,2.15,-0.13,2.01,-0.1,2.01,-0.09,1.96,-0.08,2.05,-0.08,1.88,-0.07,1.79,-0.1,1.86,-0.12,1.79,-0.14,1.74,-0.17,1.85,-0.18,1.93,-0.19,1.85,-0.22,1.8,-0.24,1.96,-0.27,1.89,-0.29,1.76,-0.32,1.78,-0.37,1.89,-0.39,1.87,-0.4,2.0,-0.37,1.95,-0.38,1.75,-0.37,1.67,-0.35,1.72,-0.33,1.64,-0.15,1.7,-0.17,1.67,0.05,1.81,0.07,1.71,0.09,1.9,0.11,1.91,0.12,1.81,0.13,1.81,0.13,1.73,0.16,1.78,0.18,1.77,0.17,1.96,0.19,1.96,0.23,1.96,0.21,1.88,0.25,1.91,0.26,1.82,0.28,1.78,0.3,1.77,0.32,1.74,0.34,1.82,0.36,1.77,0.38,1.85,0.39,1.9,0.35,1.94,0.36,1.91,0.38,1.8,0.39,2.09,0.34,2.12,0.37,2.33,0.4,2.33,0.32,2.26,0.28,2.29,0.25,2.23,0.22,2.28,0.21,2.19,0.2,2.13,0.16,2.15,0.14,2.06,0.12,2.19,0.12,2.11,0.1,2.19,0.08,2.27,0.07,2.35,0.08,2.4,0.04,2.42,0.28,2.1,0.3,2.0,0.28,1.96,
  -0.4,1.43,-0.39,1.37,-0.38,1.45,-0.35,1.36,-0.39,1.25,-0.37,1.2,-0.38,1.23,-0.4,1.13,-0.37,1.06,-0.39,1.04,-0.38,0.96,-0.36,0.98,-0.4,0.9,-0.37,0.84,-0.37,0.8,-0.39,0.69,-0.37,0.67,-0.39,0.54,-0.33,1.18,-0.32,1.16,-0.31,1.1,-0.33,1.01,-0.3,1.03,-0.32,0.9,-0.33,0.77,-0.31,0.62,-0.27,0.69,-0.27,0.66,-0.24,0.67,-0.28,1.38,-0.27,1.35,-0.25,1.31,-0.24,1.25,-0.23,1.41,-0.26,1.17,-0.25,1.03,-0.23,0.99,-0.24,0.92,-0.21,1.03,-0.21,1.42,-0.2,1.48,-0.19,1.35,-0.17,1.37,-0.17,1.26,-0.15,1.25,-0.15,1.37,-0.13,1.43,-0.11,1.4,-0.1,1.47,-0.14,1.14,-0.11,1.25,-0.09,1.37,-0.08,1.09,-0.09,0.99,-0.17,0.88,-0.14,0.93,-0.17,0.77,-0.17,0.63,-0.19,0.67,-0.13,0.61,-0.11,0.64,-0.08,0.84,-0.08,0.78,-0.07,0.54,-0.06,0.51,-0.04,0.55,-0.24,0.45,-0.15,0.18,-0.08,0.24,0.02,0.37,-0.01,0.75,0.01,0.64,-0.01,0.64,0.05,0.55,0.07,0.87,0.08,1.06,0.07,1.31,0.09,1.34,0.09,1.44,0.11,1.32,0.1,1.18,0.12,1.2,0.14,1.1,0.1,0.91,0.11,0.92,0.1,0.84,0.12,0.82,0.1,0.73,0.1,0.66,0.12,0.36,0.15,0.7,0.15,0.6,0.15,0.45,0.17,0.88,0.15,0.96,0.17,1.1,0.19,1.16,0.15,1.37,0.18,1.34,0.21,1.43,0.22,1.37,0.21,1.16,0.22,1.12,0.2,1.0,0.22,1.01,0.25,1.1,0.27,0.96,0.24,0.84,0.23,0.73,0.27,0.67,0.27,0.82,0.2,0.61,0.23,0.58,0.26,0.24,0.3,0.44,0.3,0.4,0.3,0.58,0.32,0.75,0.34,0.82,0.3,0.9,0.31,1.03,0.32,0.96,0.35,1.01,0.37,1.06,0.37,0.96,0.39,1.0,0.34,0.94,0.36,0.84,0.37,0.8,0.34,0.56,0.37,0.52,0.35,0.4,0.38,0.71,0.28,1.27,0.27,1.21,0.31,1.31,0.33,1.37,0.36,1.27,0.37,1.33,0.39,1.37,0.4,1.27,0.38,1.18,0.34,1.44,0.25,1.41,0.28,1.44,0.3,1.45,0.3,1.19,0.04,0.92,
];

const facetJitter = [
  [p1CtrlJitter, p1PanoJitter],
  [p2CtrlJitter, p2PanoJitter],
  [p3CtrlJitter, p3PanoJitter],
];

// ---------------- layout ----------------
const PANEL_LEFT = [337, 1221, 2104];
const PANEL_RIGHT = [1175, 2058, 2941];
const PLOT_TOP = 327;
const PLOT_BOTTOM = 1536;
const X_AXIS_H = 124;
const STRIP_TOP = 46;
const Y_MIN = -0.505;
const Y_MAX = 10.605;

const isMajor = (v: number) => Math.abs(v / 2.5 - Math.round(v / 2.5)) < 1e-6;

function toPoints(flat: number[], center: number) {
  const out: { x: number; y: number }[] = [];
  for (let i = 0; i < flat.length; i += 2) out.push({ x: center + flat[i], y: flat[i + 1] });
  return out;
}

const panelBg = {
  id: 'panelBg',
  beforeDraw(chart: any) {
    const { ctx, chartArea } = chart;
    ctx.save();
    ctx.fillStyle = '#EBEBEB';
    ctx.fillRect(chartArea.left, chartArea.top, chartArea.right - chartArea.left, chartArea.bottom - chartArea.top);
    ctx.restore();
  },
};

function buildConfig(f: number, yAxisWidth: number): any {
  const datasets: any[] = [];
  const means = [ctrlMeans[f], panoMeans[f]];
  means.forEach((m, c) => {
    const cx = c + 1;
    datasets.push({
      data: [{ x: cx - BAR_HALF, y: m }, { x: cx + BAR_HALF, y: m }],
      showLine: true, borderColor: '#FF0000', borderWidth: 22, borderCapStyle: 'butt',
      pointRadius: 0, order: 0,
    });
  });
  patients.forEach((p, k) => {
    const arr = patientMeans[k];
    datasets.push({
      label: p,
      data: [{ x: 1, y: arr[f * 2] }, { x: 2, y: arr[f * 2 + 1] }],
      pointRadius: 24, pointBackgroundColor: patientColors[k], backgroundColor: patientColors[k],
      pointBorderWidth: 0, borderWidth: 0, showLine: false, order: patients.length - k,
    });
  });
  const jit = facetJitter[f];
  datasets.push({
    data: [...toPoints(jit[0], 1), ...toPoints(jit[1], 2)],
    pointRadius: 2.6, pointBackgroundColor: '#000000', pointBorderWidth: 0, showLine: false, order: 6,
  });
  [1, 2].forEach((cx) => {
    datasets.push({
      data: [{ x: cx - ZERO_HALF, y: 0 }, { x: cx + ZERO_HALF, y: 0 }],
      showLine: true, borderColor: '#000000', borderWidth: 5, borderDash: [16, 3], pointRadius: 0, order: 7,
    });
  });

  const showY = f === 0;
  return {
    type: 'scatter',
    data: { datasets },
    options: {
      responsive: false,
      animation: false,
      devicePixelRatio: 1,
      events: [],
      layout: { padding: 0, autoPadding: false },
      plugins: { legend: { display: false }, tooltip: { enabled: false } },
      scales: {
        x: {
          type: 'linear', position: 'bottom', min: 0.4, max: 2.6,
          afterBuildTicks: (s: any) => { s.ticks = [1, 2].map((v) => ({ value: v })); },
          afterFit: (s: any) => { s.height = X_AXIS_H; s.paddingLeft = 0; s.paddingRight = 0; },
          ticks: {
            autoSkip: false, maxRotation: 0, minRotation: 0, padding: 4,
            font: { family: FONT, size: 72 }, color: '#4D4D4D',
            callback: (v: number) => categories[Math.round(v) - 1],
          },
          grid: { color: '#FFFFFF', lineWidth: 10, drawTicks: true, tickLength: 21, tickColor: '#333333', tickWidth: 9 },
          border: { display: false },
        },
        y: {
          type: 'linear', position: 'left', min: Y_MIN, max: Y_MAX,
          afterBuildTicks: (s: any) => {
            s.ticks = [...yMajor, ...yMinor].sort((a, b) => a - b).map((v) => ({ value: v }));
          },
          afterFit: (s: any) => { s.width = yAxisWidth; s.paddingTop = 0; s.paddingBottom = 0; },
          ticks: {
            display: showY, autoSkip: false, padding: 20,
            font: { family: FONT, size: 72 }, color: '#4D4D4D',
            callback: (v: number) => { const i = yMajor.indexOf(v); return i >= 0 ? yMajorLabels[i] : ''; },
          },
          grid: {
            color: '#FFFFFF',
            lineWidth: (ctx: any) => (ctx.tick && !isMajor(ctx.tick.value) ? 5 : 10),
            drawTicks: showY, tickLength: 23, tickWidth: 9,
            tickColor: (ctx: any) => (ctx.tick && isMajor(ctx.tick.value) ? '#333333' : 'rgba(0,0,0,0)'),
          },
          border: { display: false },
        },
      },
    },
    plugins: [panelBg],
  };
}

function Panel({ index }: { index: number }) {
  const ref = useRef<HTMLCanvasElement>(null);
  const left = index === 0 ? 0 : PANEL_LEFT[index];
  const width = PANEL_RIGHT[index] - left;
  const height = PLOT_BOTTOM - PLOT_TOP + X_AXIS_H;
  useEffect(() => {
    const chart = new Chart(ref.current as HTMLCanvasElement, buildConfig(index, index === 0 ? PANEL_LEFT[0] : 0));
    return () => chart.destroy();
  }, [index]);
  return (
    <canvas
      ref={ref}
      width={width}
      height={height}
      style={{ position: 'absolute', left, top: PLOT_TOP, width, height, display: 'block' }}
    />
  );
}

const textBase: React.CSSProperties = {
  position: 'absolute', fontFamily: FONT, whiteSpace: 'nowrap', lineHeight: '100px', height: 100,
};

export default function App() {
  return (
    <div style={{ position: 'absolute', left: 0, top: 0, width: 3600, height: 1800, background: '#FFFFFF', overflow: 'hidden' }}>
      {[0, 1, 2].map((i) => (
        <div key={'strip' + i} style={{ position: 'absolute', left: PANEL_LEFT[i], top: STRIP_TOP, width: PANEL_RIGHT[i] - PANEL_LEFT[i], height: PLOT_TOP - STRIP_TOP, background: '#D9D9D9' }}>
          <div style={{ ...textBase, left: 0, width: '100%', top: 143 - STRIP_TOP - 75, textAlign: 'center', fontSize: 73, color: '#1A1A1A' }}>
            {'is_tumor: ' + isTumor[i]}
          </div>
          <div style={{ ...textBase, left: 0, width: '100%', top: 283 - STRIP_TOP - 75, textAlign: 'center', fontSize: 73, color: '#1A1A1A' }}>
            {'in_neighborhood: ' + inNeighborhood[i]}
          </div>
        </div>
      ))}
      {[0, 1, 2].map((i) => <Panel key={'panel' + i} index={i} />)}
      <div style={{ ...textBase, left: 1639 - 400, width: 800, top: 1735 - 81, textAlign: 'center', fontSize: 90, color: '#000000' }}>condition</div>
      <div style={{ ...textBase, left: 71 - 200, width: 400, top: 931 - 50, textAlign: 'center', fontSize: 90, color: '#000000', transform: 'rotate(-90deg)' }}>expr</div>
      <div style={{ ...textBase, left: 3076, top: 583 - 81, fontSize: 90, color: '#000000' }}>patient_id</div>
      <div style={{ position: 'absolute', left: 3079, top: 638, width: 144, height: 720, background: '#EBEBEB' }} />
      {patients.map((p, k) => (
        <React.Fragment key={p}>
          <div style={{ position: 'absolute', left: 3151 - 24, top: 710 + 144 * k - 24, width: 48, height: 48, borderRadius: '50%', background: patientColors[k] }} />
          <div style={{ ...textBase, left: 3266, top: 710 + 144 * k + 26 - 75, fontSize: 72, color: '#000000' }}>{p}</div>
        </React.Fragment>
      ))}
    </div>
  );
}
